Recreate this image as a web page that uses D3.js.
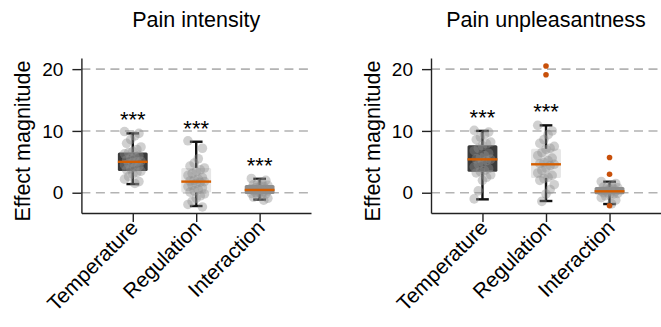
<!DOCTYPE html>
<html>
<head>
<meta charset="utf-8">
<script src="https://cdn.jsdelivr.net/npm/d3@7"></script>
<style>
  body { margin: 0; background: #fff; }
  text { font-family: "Liberation Sans", Arial, Helvetica, sans-serif; fill: #000; }
</style>
</head>
<body>
<div id="plot"></div>
<script>
var width = 661, height = 327;

var categories = ["Temperature", "Regulation", "Interaction"];
var titles = ["Pain intensity", "Pain unpleasantness"];
var yTicks = [0, 10, 20];

// box stats: [Temperature, Regulation, Interaction]
var intensityQ1     = [3.5, 0.05, -0.2];
var intensityMedian = [5.0, 1.8, 0.45];
var intensityQ3     = [6.5, 4.0, 1.25];
var intensityLow    = [1.4, -2.15, -1.1];
var intensityHigh   = [9.6, 8.25, 2.25];
var intensityStars  = ["***", "***", "***"];

var unpleasQ1     = [3.4, 2.4, -0.26];
var unpleasMedian = [5.4, 4.6, 0.23];
var unpleasQ3     = [7.7, 7.1, 0.92];
var unpleasLow    = [-1.07, -1.34, -1.83];
var unpleasHigh   = [10.0, 10.9, 1.78];
var unpleasStars  = ["***", "***", ""];

// individual subject points
var intensityTemp = [9.9, 9.6, 9.2, 8.6, 8.0, 7.4, 7.0, 6.7, 6.5, 6.3, 6.0, 5.8, 5.6, 5.3, 5.1,
                     5.0, 4.9, 4.7, 4.5, 4.3, 4.1, 3.9, 3.7, 3.5, 3.3, 3.0, 2.6, 2.2, 1.8, 1.5];
var intensityReg  = [8.4, 7.2, 5.5, 4.8, 4.3, 4.0, 3.7, 3.4, 3.1, 2.8, 2.5, 2.2, 2.0, 1.9, 1.8,
                     1.7, 1.5, 1.2, 1.0, 0.8, 0.5, 0.3, 0.1, -0.2, -0.5, -0.9, -1.4, -1.9, -2.3];
var intensityInt  = [2.3, 2.0, 1.7, 1.5, 1.3, 1.2, 1.0, 0.9, 0.8, 0.7, 0.6, 0.5, 0.45, 0.4, 0.3,
                     0.2, 0.1, 0.0, -0.1, -0.2, -0.3, -0.5, -0.7, -0.9, -1.2];
var unpleasTemp = [10.1, 9.8, 9.4, 9.0, 8.6, 8.2, 7.9, 7.6, 7.2, 6.8, 6.4, 6.0, 5.7, 5.5, 5.4,
                   5.2, 4.9, 4.6, 4.2, 3.9, 3.6, 3.4, 3.2, 2.9, 2.5, 2.0, 0.3, -1.0];
var unpleasReg  = [10.9, 10.0, 9.4, 8.6, 8.0, 7.5, 7.2, 7.0, 6.5, 6.0, 5.6, 5.2, 4.9, 4.7, 4.6,
                   4.4, 4.0, 3.6, 3.2, 2.8, 2.5, 2.3, 2.0, 1.3, 0.5, -0.2, -1.4];
var unpleasInt  = [1.8, 1.5, 1.2, 1.0, 0.9, 0.8, 0.6, 0.5, 0.4, 0.3, 0.25, 0.2, 0.1, 0.0, -0.1,
                   -0.2, -0.3, -0.5, -0.8, -1.2, -1.8];

// fliers
var intensityOutliers = [[], [], []];
var unpleasOutliers   = [[], [20.5, 19.1], [5.7, 3.0, -2.1]];

var boxFill = ["#3b3b3b", "#e6e6e6", "#8e8e8e"];

var panels = [
  {title: titles[0], left: 81.4, right: 311, q1: intensityQ1, med: intensityMedian, q3: intensityQ3,
   lo: intensityLow, hi: intensityHigh, stars: intensityStars,
   points: [intensityTemp, intensityReg, intensityInt], outliers: intensityOutliers},
  {title: titles[1], left: 431, right: 661, q1: unpleasQ1, med: unpleasMedian, q3: unpleasQ3,
   lo: unpleasLow, hi: unpleasHigh, stars: unpleasStars,
   points: [unpleasTemp, unpleasReg, unpleasInt], outliers: unpleasOutliers}
];

var svg = d3.select("#plot").append("svg")
    .attr("width", width)
    .attr("height", height);

var plotTop = 58, plotBottom = 213;
var y = d3.scaleLinear().domain([-3.28, 21.8]).range([plotBottom, plotTop]);

var boxW = 0.47, capW = 0.2;

panels.forEach(function(p) {
  var x = d3.scaleLinear().domain([-0.81, 2.81]).range([p.left, p.right]);
  var g = svg.append("g");

  // dashed grid
  g.selectAll("line.grid").data(yTicks).enter().append("line")
    .attr("x1", p.left).attr("x2", p.right)
    .attr("y1", function(d) { return y(d); })
    .attr("y2", function(d) { return y(d); })
    .attr("stroke", "#b3b3b3")
    .attr("stroke-width", 1.6)
    .attr("stroke-dasharray", "9,5.5");

  var idx = [0, 1, 2];

  // boxes
  g.selectAll("rect.box").data(idx).enter().append("rect")
    .attr("x", function(i) { return x(i - boxW / 2); })
    .attr("width", x(boxW) - x(0))
    .attr("y", function(i) { return y(p.q3[i]); })
    .attr("height", function(i) { return y(p.q1[i]) - y(p.q3[i]); })
    .attr("rx", 1.5)
    .attr("fill", function(i) { return boxFill[i]; });

  // whiskers
  idx.forEach(function(i) {
    var w = g.append("g").attr("stroke", "#111").attr("stroke-width", 2.4);
    w.append("line").attr("x1", x(i)).attr("x2", x(i))
      .attr("y1", y(p.q3[i])).attr("y2", y(p.hi[i]));
    w.append("line").attr("x1", x(i)).attr("x2", x(i))
      .attr("y1", y(p.q1[i])).attr("y2", y(p.lo[i]));
    w.append("line").attr("x1", x(i - capW / 2)).attr("x2", x(i + capW / 2))
      .attr("y1", y(p.hi[i])).attr("y2", y(p.hi[i]));
    w.append("line").attr("x1", x(i - capW / 2)).attr("x2", x(i + capW / 2))
      .attr("y1", y(p.lo[i])).attr("y2", y(p.lo[i]));
  });

  // strip points, spread sideways a little
  idx.forEach(function(i) {
    g.selectAll(null).data(p.points[i]).enter().append("circle")
      .attr("cx", function(d, k) { return x(i + (((k * 7) % 9) - 4) / 4 * 0.13); })
      .attr("cy", function(d) { return y(d); })
      .attr("r", 4.8)
      .attr("fill", "#8f8f8f")
      .attr("fill-opacity", 0.42);
  });

  // medians
  g.selectAll("line.med").data(idx).enter().append("line")
    .attr("x1", function(i) { return x(i - boxW / 2); })
    .attr("x2", function(i) { return x(i + boxW / 2); })
    .attr("y1", function(i) { return y(p.med[i]); })
    .attr("y2", function(i) { return y(p.med[i]); })
    .attr("stroke", "#d55e00")
    .attr("stroke-width", 2.4);

  // fliers
  idx.forEach(function(i) {
    g.selectAll(null).data(p.outliers[i]).enter().append("circle")
      .attr("cx", x(i))
      .attr("cy", function(d) { return y(d); })
      .attr("r", 2.8)
      .attr("fill", "#c8500a");
  });

  // significance stars
  g.selectAll("text.star").data(idx).enter().append("text")
    .attr("x", function(i) { return x(i); })
    .attr("y", function(i) { return y(p.hi[i]) - 6; })
    .attr("text-anchor", "middle")
    .attr("font-size", "22px")
    .text(function(i) { return p.stars[i]; });

  // axes
  var yAxis = d3.axisLeft(y).tickValues(yTicks).tickSize(9).tickPadding(9).tickSizeOuter(0);
  var ya = g.append("g").attr("transform", "translate(" + p.left + ",0)").call(yAxis);
  ya.select(".domain").attr("stroke", "#222").attr("stroke-width", 1.4);
  ya.selectAll(".tick line").attr("stroke", "#222").attr("stroke-width", 1.4);
  ya.selectAll(".tick text").attr("font-size", "19px").attr("font-family", null).attr("fill", "#111");

  var xAxis = d3.axisBottom(x).tickValues(idx).tickSize(9).tickSizeOuter(0)
    .tickFormat(function(i) { return categories[i]; });
  var xa = g.append("g").attr("transform", "translate(0," + plotBottom + ")").call(xAxis);
  xa.select(".domain").attr("stroke", "#222").attr("stroke-width", 1.4);
  xa.selectAll(".tick line").attr("stroke", "#222").attr("stroke-width", 1.4);
  xa.selectAll(".tick text")
    .attr("font-size", "21px").attr("font-family", null).attr("fill", "#111")
    .attr("text-anchor", "end")
    .attr("dy", null)
    .attr("transform", "translate(6,16) rotate(-45)")
    .attr("x", 0).attr("y", 0);

  // title and y label
  g.append("text")
    .attr("x", (p.left + p.right) / 2)
    .attr("y", 27)
    .attr("text-anchor", "middle")
    .attr("font-size", "21.5px")
    .text(p.title);

  g.append("text")
    .attr("transform", "translate(" + (p.left - 51.5) + "," + 141 + ") rotate(-90)")
    .attr("text-anchor", "middle")
    .attr("font-size", "21.5px")
    .text("Effect magnitude");
});
</script>
</body>
</html>
